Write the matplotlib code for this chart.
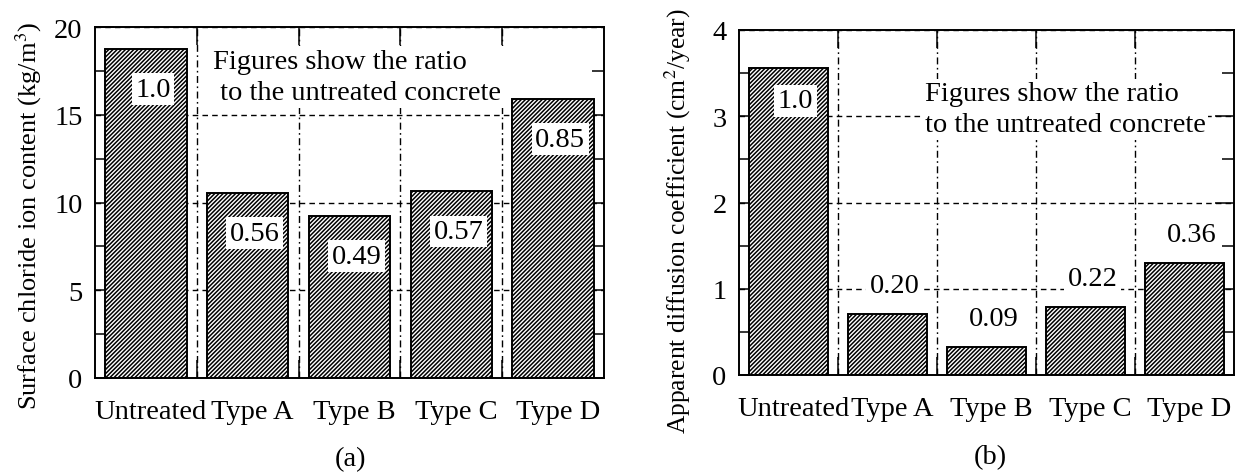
import matplotlib
matplotlib.use("Agg")
import matplotlib.pyplot as plt
import matplotlib.transforms as mtransforms
import numpy as np

# Data
categories = ["Untreated", "Type A", "Type B", "Type C", "Type D"]
surface_chloride = [18.75, 10.55, 9.25, 10.65, 15.9]        # kg/m^3
surface_ratio = ["1.0", "0.56", "0.49", "0.57", "0.85"]
diffusion_coef = [3.56, 0.71, 0.32, 0.79, 1.30]              # cm^2/year
diffusion_ratio = ["1.0", "0.20", "0.09", "0.22", "0.36"]

note = "Figures show the ratio\n to the untreated concrete"
note_b = "Figures show the ratio\nto the untreated concrete"

plt.rcParams["font.family"] = ["Liberation Serif", "DejaVu Serif"]
plt.rcParams["mathtext.fontset"] = "stix"
plt.rcParams["hatch.linewidth"] = 1.1

FS = 20.5
HATCH = "////////"

fig = plt.figure(figsize=(12.36, 4.77), dpi=100)
W, H = 1236, 477


def px_axes(left, top, right, bottom):
    return fig.add_axes([left / W, (H - bottom) / H, (right - left) / W, (bottom - top) / H])


def style_axes(ax, ymax, ymajor, yminor, ylabel, label_fs, label_x, label_y):
    x = np.arange(len(categories))
    ax.set_xlim(-0.5, len(categories) - 0.5)
    ax.set_ylim(0, ymax)
    ax.set_yticks(np.arange(0, ymax + 0.001, ymajor))
    ax.set_yticks(np.arange(0, ymax + 0.001, yminor), minor=True)
    ax.set_yticklabels([f"{v:g}" for v in np.arange(0, ymax + 0.001, ymajor)], fontsize=FS)
    ax.tick_params(axis="y", which="major", direction="in", length=14, width=1.1,
                   left=True, right=True, pad=9)
    ax.tick_params(axis="y", which="minor", direction="in", length=9, width=1.1,
                   left=True, right=True)
    # category centres carry the labels, boundaries carry the tick marks
    ax.set_xticks(x)
    ax.set_xticklabels(categories, fontsize=FS)
    ax.set_xticks(x[:-1] + 0.5, minor=True)
    ax.tick_params(axis="x", which="major", length=0, pad=15)
    ax.tick_params(axis="x", which="minor", direction="in", length=13, width=1.1,
                   top=True, bottom=True)
    shift = mtransforms.ScaledTranslation(5 / 100, 0, fig.dpi_scale_trans)
    for lbl in ax.get_xticklabels():
        lbl.set_transform(lbl.get_transform() + shift)
    # grid
    for yv in np.arange(ymajor, ymax + 0.001, ymajor):
        ax.axhline(yv, color="black", lw=1.0, ls=(0, (4, 3)), zorder=0.5)
    for xv in x[:-1] + 0.5:
        ax.axvline(xv, color="black", lw=1.0, ls=(0, (5, 2.5, 1.2, 2.5)), zorder=0.5)
    for s in ax.spines.values():
        s.set_linewidth(1.4)
    ax.set_ylabel(ylabel, fontsize=label_fs)
    ax.yaxis.set_label_coords(label_x, label_y)
    return x


# (a) surface chloride ion content
ax1 = px_axes(95, 28, 604, 379)
x = style_axes(ax1, 20, 5, 2.5, "Surface chloride ion content (kg/m$^3$)", 19.0, -0.100, 0.465)
ax1.bar(x, surface_chloride, width=0.8, facecolor="white", edgecolor="black",
        hatch=HATCH, linewidth=1.4, zorder=2)
for xi, v, r in zip(x, surface_chloride, surface_ratio):
    ax1.text(xi + 0.07, v - 2.3, r, ha="center", va="center", fontsize=FS, zorder=4,
             bbox=dict(boxstyle="square,pad=0.12", facecolor="white", edgecolor="none"))
ax1.text(0.66, 17.15, note, ha="left", va="center", fontsize=FS, linespacing=1.3, zorder=3,
         bbox=dict(boxstyle="square,pad=0.1", facecolor="white", edgecolor="none"))

# (b) apparent diffusion coefficient
ax2 = px_axes(739, 31, 1234, 376)
x = style_axes(ax2, 4, 1, 0.5, "Apparent diffusion coefficient (cm$^2$/year)", 18.4, -0.093, 0.448)
ax2.bar(x, diffusion_coef, width=0.8, facecolor="white", edgecolor="black",
        hatch=HATCH, linewidth=1.4, zorder=2)
for i, (xi, v, r) in enumerate(zip(x, diffusion_coef, diffusion_ratio)):
    y = v - 0.38 if i == 0 else v + 0.33
    ax2.text(xi + 0.07, y, r, ha="center", va="center", fontsize=FS, zorder=4,
             bbox=dict(boxstyle="square,pad=0.12", facecolor="white", edgecolor="none"))
ax2.text(1.375, 3.08, note_b, ha="left", va="center", fontsize=FS, linespacing=1.3, zorder=3,
         bbox=dict(boxstyle="square,pad=0.1", facecolor="white", edgecolor="none"))

fig.text(350 / W, 1 - 460 / H, "(a)", ha="center", va="center", fontsize=FS)
fig.text(990 / W, 1 - 458 / H, "(b)", ha="center", va="center", fontsize=FS)

fig.savefig("out.png", dpi=100)
